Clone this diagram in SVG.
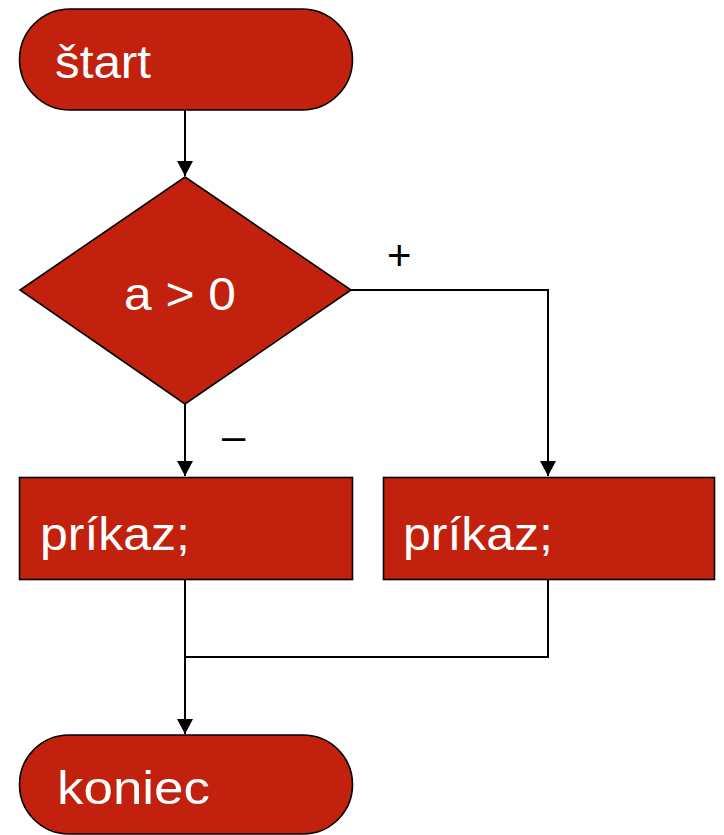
<svg xmlns="http://www.w3.org/2000/svg" width="724" height="835" viewBox="0 0 724 835">
  <style>
    .shape { fill: #c1210d; stroke: #000; stroke-width: 1.6; }
    .label { fill: #fff; font-family: "Liberation Sans", Arial, sans-serif; font-size: 46px; }
    .edge { fill: none; stroke: #000; stroke-width: 2; }
    .sign { fill: #000; font-family: "Liberation Sans", Arial, sans-serif; font-size: 42px; }
  </style>
  <defs>
    <marker id="arrow" markerUnits="userSpaceOnUse" markerWidth="16" markerHeight="16" refX="15" refY="8" orient="auto">
      <path d="M0,0 L15,8 L0,16 Z" fill="#000"/>
    </marker>
  </defs>

  <g id="connectors">
    <path class="edge" d="M185,110 V176" marker-end="url(#arrow)"/>
    <path class="edge" d="M185,404 V476" marker-end="url(#arrow)"/>
    <path class="edge" d="M351,290 H548 V476" marker-end="url(#arrow)"/>
    <path class="edge" d="M548,580 V657 H185"/>
    <path class="edge" d="M185,580 V734" marker-end="url(#arrow)"/>
    <text class="sign" x="387" y="270">+</text>
    <text class="sign" x="222" y="450">–</text>
  </g>

  <g id="start">
    <rect class="shape" x="19.5" y="9" width="333" height="101" rx="50.5" ry="50.5"/>
    <text class="label" x="55" y="78" textLength="96" lengthAdjust="spacingAndGlyphs">štart</text>
  </g>

  <g id="condition">
    <polygon class="shape" points="185,177 351,290 185,404 20,290"/>
    <text class="label" x="124" y="310" textLength="112" lengthAdjust="spacingAndGlyphs">a &gt; 0</text>
  </g>

  <g id="command-no">
    <rect class="shape" x="19.5" y="477.5" width="333" height="102"/>
    <text class="label" x="40" y="550" textLength="150" lengthAdjust="spacingAndGlyphs">príkaz;</text>
  </g>

  <g id="command-yes">
    <rect class="shape" x="383.5" y="477.5" width="331" height="102"/>
    <text class="label" x="403" y="550" textLength="150" lengthAdjust="spacingAndGlyphs">príkaz;</text>
  </g>

  <g id="end">
    <rect class="shape" x="19.5" y="735" width="333" height="99" rx="49.5" ry="49.5"/>
    <text class="label" x="57" y="804" textLength="153" lengthAdjust="spacingAndGlyphs">koniec</text>
  </g>
</svg>
